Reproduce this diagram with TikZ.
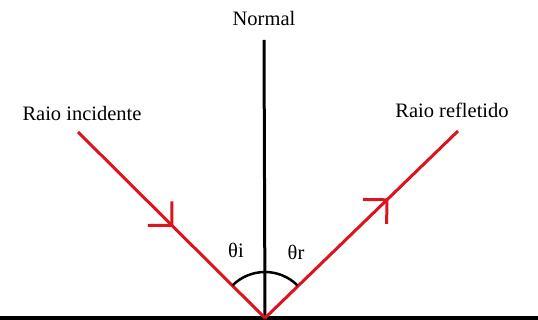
\documentclass[tikz,border=0pt]{standalone}
\usepackage{fontspec}
\setmainfont{Liberation Serif}
\usetikzlibrary{arrows.meta,decorations.markings}
\definecolor{raycolor}{RGB}{220,20,30}
\tikzset{
  ray/.style={raycolor, line width=3pt},
  midarrow/.style={postaction={decorate},
    decoration={markings, mark=at position #1 with {\arrow[raycolor]{Straight Barb[angle=90:24pt, line width=3pt]}}}},
  lbl/.style={font=\fontsize{20.5}{24}\selectfont}
}
\begin{document}
\begin{tikzpicture}[x=1pt,y=-1pt]
\useasboundingbox (0,0) rectangle (538,320);

\coordinate (O) at (265,318);
\coordinate (ntop) at (264,40);
\coordinate (inc) at (78,132);
\coordinate (refl) at (458,131);
\coordinate (sleft) at (0,318);
\coordinate (sright) at (538,318);

\draw[line width=3.5pt] (sleft) -- (sright);
\draw[line width=3pt] (ntop) -- (O);

\draw[ray, midarrow=0.51] (inc) -- (O);
\draw[ray, midarrow=0.64] (O) -- (refl);

\draw[line width=2.5pt] ([shift={(-45:46)}]O) arc[start angle=-45, end angle=-135, radius=46];

\node[lbl] (normal) at (264,18) {Normal};
\node[lbl] (inclabel) at (82,113) {Raio incidente};
\node[lbl] (refllabel) at (452,110) {Raio refletido};
\node[lbl] (thetai) at (236,250) {θi};
\node[lbl] (thetar) at (296,252) {θr};
\end{tikzpicture}
\end{document}
